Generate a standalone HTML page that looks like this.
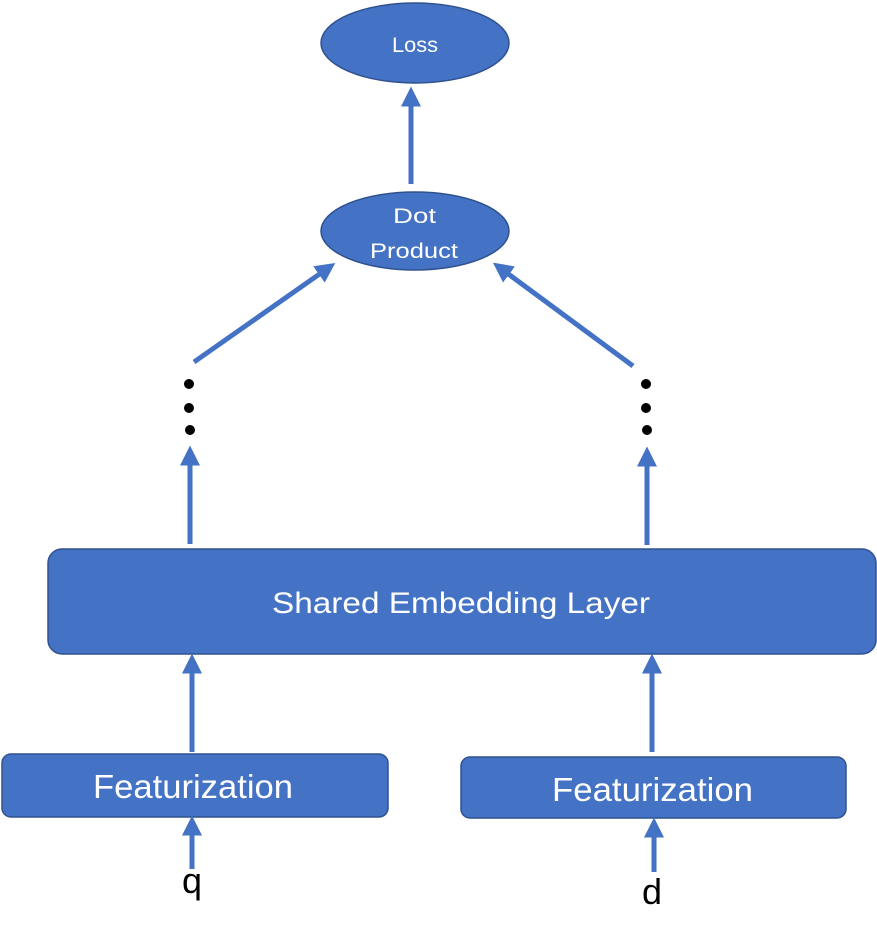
<!DOCTYPE html>
<html><head><meta charset="utf-8"><style>
html,body{margin:0;padding:0;background:#fff;}
svg{display:block;}
text{font-family:"Liberation Sans",sans-serif;}
</style></head><body>
<svg width="877" height="935" viewBox="0 0 877 935" xmlns="http://www.w3.org/2000/svg">
<defs>
<marker id="ah" markerWidth="4" markerHeight="4" refX="0.5" refY="2" orient="auto" markerUnits="strokeWidth">
<path d="M0,0 L4,2 L0,4 Z" fill="#4472C4"/>
</marker>
</defs>
<g fill="#4472C4" stroke="#2F528F" stroke-width="1.5">
<ellipse cx="415" cy="43" rx="94" ry="40"/>
<ellipse cx="415" cy="231" rx="94" ry="39"/>
<rect x="48" y="549" width="828" height="105" rx="14"/>
<rect x="2" y="754" width="386" height="63" rx="9"/>
<rect x="461" y="757" width="385" height="61" rx="9"/>
</g>
<g stroke="#4472C4" stroke-width="5" fill="none" marker-end="url(#ah)">
<line x1="411" y1="184" x2="411" y2="104"/>
<line x1="194" y1="362" x2="321" y2="273"/>
<line x1="633" y1="366" x2="507" y2="273"/>
<line x1="190" y1="544" x2="190" y2="463"/>
<line x1="647" y1="545" x2="647" y2="464"/>
<line x1="192" y1="752" x2="192" y2="671"/>
<line x1="652" y1="752" x2="652" y2="671"/>
<line x1="192" y1="869" x2="192" y2="833"/>
<line x1="654" y1="872" x2="654" y2="835"/>
</g>
<g fill="#000">
<circle cx="189" cy="384" r="5"/><circle cx="189" cy="408" r="5"/><circle cx="190" cy="430" r="5"/>
<circle cx="646" cy="384" r="5"/><circle cx="646" cy="408" r="5"/><circle cx="647" cy="430" r="5"/>
</g>
<g fill="#fff">
<text x="392" y="52" font-size="21" textLength="46" lengthAdjust="spacingAndGlyphs">Loss</text>
<text x="393" y="223" font-size="21" textLength="43" lengthAdjust="spacingAndGlyphs">Dot</text>
<text x="370" y="258" font-size="21" textLength="88" lengthAdjust="spacingAndGlyphs">Product</text>
<text x="272" y="613" font-size="30" textLength="378" lengthAdjust="spacingAndGlyphs">Shared Embedding Layer</text>
<text x="93" y="798" font-size="33" textLength="200" lengthAdjust="spacingAndGlyphs">Featurization</text>
<text x="552" y="801" font-size="33" textLength="201" lengthAdjust="spacingAndGlyphs">Featurization</text>
</g>
<text x="182" y="893" font-size="36" fill="#000">q</text>
<text x="642" y="904" font-size="36" fill="#000">d</text>
</svg>
</body></html>
